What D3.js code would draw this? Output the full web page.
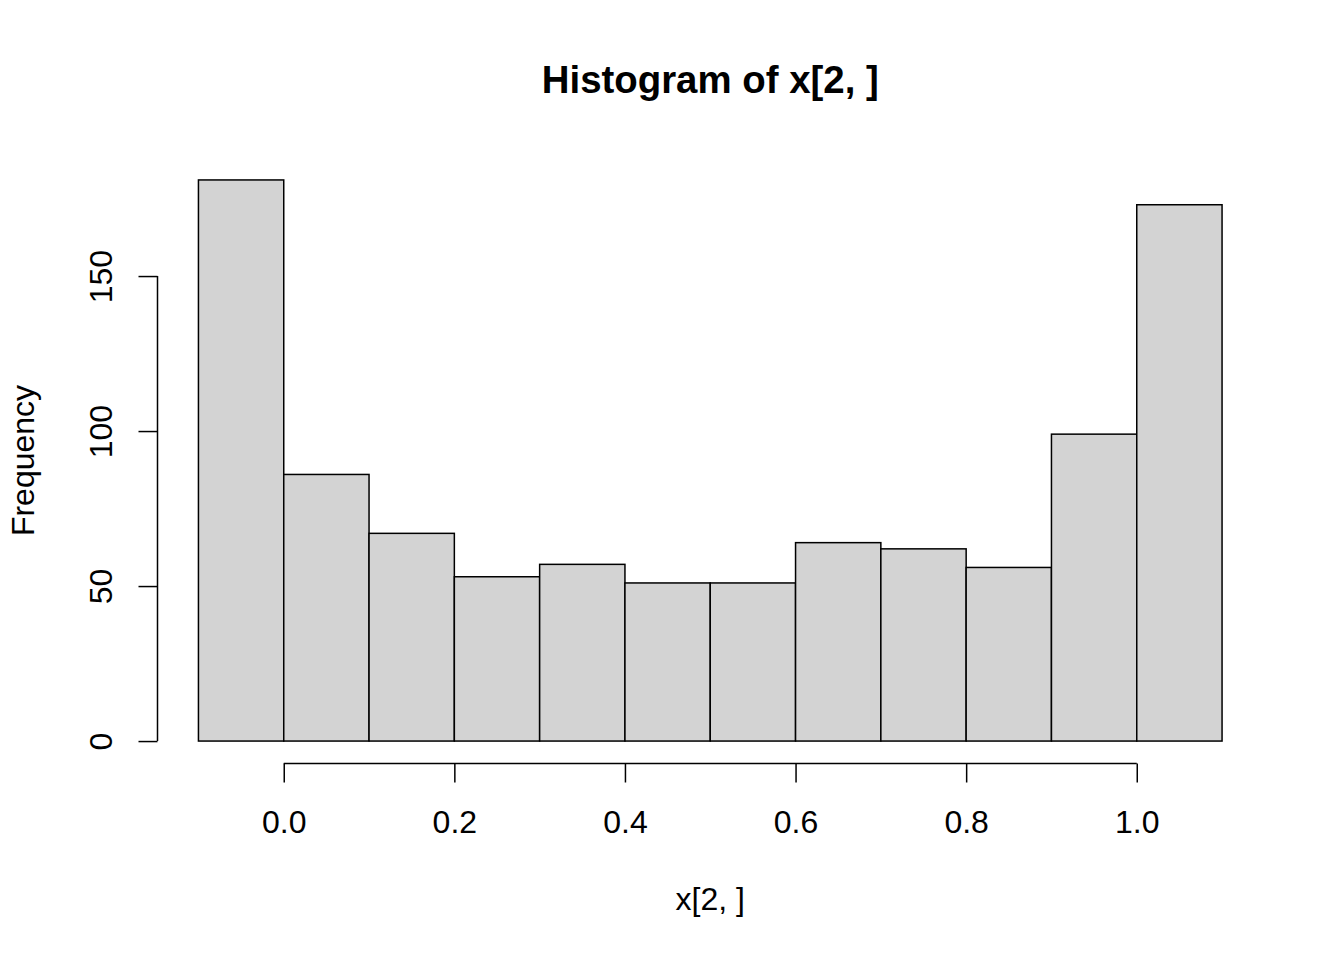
<!DOCTYPE html>
<html>
<head>
<meta charset="utf-8">
<script src="https://cdn.jsdelivr.net/npm/d3@7"></script>
<style>
  body { margin: 0; background: #fff; }
  text { font-family: "Liberation Sans", Arial, Helvetica, sans-serif; fill: #000; }
</style>
</head>
<body>
<div id="chart-area"></div>
<script>
// histogram of x[2, ] : bin edges and counts
var breaks = [-0.1, 0.0, 0.1, 0.2, 0.3, 0.4, 0.5, 0.6, 0.7, 0.8, 0.9, 1.0, 1.1];
var counts = [181, 86, 67, 53, 57, 51, 51, 64, 62, 56, 99, 173];
var xTicks = [0.0, 0.2, 0.4, 0.6, 0.8, 1.0];
var yTicks = [0, 50, 100, 150];
var title = "Histogram of x[2, ]",
    xLabel = "x[2, ]",
    yLabel = "Frequency";

var W = 1344, H = 960;
var plot = { left: 157.5, right: 1263, top: 157.5, bottom: 763.5 };
var fontSize = 32;

var svg = d3.select("#chart-area")
    .append("svg")
        .attr("width", W)
        .attr("height", H);

// R style: 4% padding on each side of the data range
var xr = [breaks[0], breaks[breaks.length - 1]],
    xpad = (xr[1] - xr[0]) * 0.04;
var x = d3.scaleLinear()
    .domain([xr[0] - xpad, xr[1] + xpad])
    .range([plot.left, plot.right]);

var ymax = d3.max(counts),
    ypad = ymax * 0.04;
var y = d3.scaleLinear()
    .domain([-ypad, ymax + ypad])
    .range([plot.bottom, plot.top]);

var bins = counts.map(function(c, i){
    return { x0: breaks[i], x1: breaks[i + 1], count: c };
});

svg.selectAll("rect.bar")
    .data(bins)
    .enter()
    .append("rect")
        .attr("class", "bar")
        .attr("x", function(d){ return x(d.x0); })
        .attr("y", function(d){ return y(d.count); })
        .attr("width", function(d){ return x(d.x1) - x(d.x0); })
        .attr("height", function(d){ return y(0) - y(d.count); })
        .attr("fill", "#d3d3d3")
        .attr("stroke", "#000")
        .attr("stroke-width", 1.5);

// x axis
var xAxis = d3.axisBottom(x)
    .tickValues(xTicks)
    .tickSize(19)
    .tickSizeOuter(0)
    .tickPadding(0)
    .tickFormat(d3.format(".1f"));

var gx = svg.append("g")
    .attr("transform", "translate(0," + plot.bottom + ")")
    .call(xAxis);

gx.select(".domain")
    .attr("d", "M" + x(xTicks[0]) + ",0H" + x(xTicks[xTicks.length - 1]));

gx.selectAll("text")
    .attr("y", 69.5)
    .attr("dy", 0)
    .attr("font-size", fontSize)
    .attr("font-family", null);

// y axis
var yAxis = d3.axisLeft(y)
    .tickValues(yTicks)
    .tickSize(19)
    .tickSizeOuter(0);

var gy = svg.append("g")
    .attr("transform", "translate(" + plot.left + ",0)")
    .call(yAxis);

gy.select(".domain")
    .attr("d", "M0," + y(yTicks[0]) + "V" + y(yTicks[yTicks.length - 1]));

gy.selectAll("text")
    .attr("x", 0)
    .attr("dy", 0)
    .attr("text-anchor", "middle")
    .attr("transform", "translate(-45.5,0) rotate(-90)")
    .attr("font-size", fontSize)
    .attr("font-family", null);

svg.selectAll(".domain, .tick line")
    .attr("stroke", "#000")
    .attr("stroke-width", 1.5);

// titles
svg.append("text")
    .attr("x", (plot.left + plot.right) / 2)
    .attr("y", 93)
    .attr("text-anchor", "middle")
    .attr("font-size", fontSize * 1.2)
    .attr("font-weight", "bold")
    .text(title);

svg.append("text")
    .attr("x", (plot.left + plot.right) / 2)
    .attr("y", 910)
    .attr("text-anchor", "middle")
    .attr("font-size", fontSize)
    .text(xLabel);

svg.append("text")
    .attr("transform", "translate(34," + ((plot.top + plot.bottom) / 2) + ") rotate(-90)")
    .attr("text-anchor", "middle")
    .attr("font-size", fontSize)
    .text(yLabel);
</script>
</body>
</html>
